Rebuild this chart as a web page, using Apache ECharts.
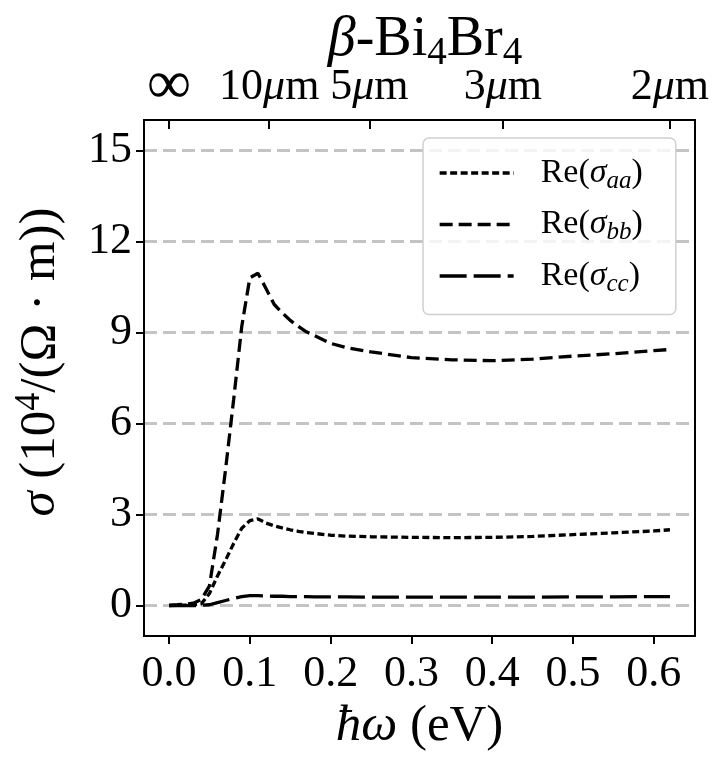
<!DOCTYPE html>
<html lang="en">
<head>
<meta charset="UTF-8">
<title>beta-Bi4Br4 optical conductivity</title>
<script src="https://cdn.jsdelivr.net/npm/echarts@6/dist/echarts.min.js"></script>
<style>
    html, body { margin: 0; padding: 0; background: #fff; }
    #main { width: 715px; height: 759px; }
</style>
</head>
<body>
<div id="main"></div>
<script>
    // photon energy (eV)
    var energy = [0, 0.01, 0.02, 0.03, 0.04, 0.05, 0.06, 0.07, 0.08, 0.09,
        0.10, 0.11, 0.12, 0.13, 0.14, 0.15, 0.16, 0.17, 0.18,
        0.20, 0.22, 0.25, 0.30, 0.35, 0.40, 0.45, 0.50, 0.55, 0.60, 0.62];
    // Re(sigma), units of 10^4 / (Ohm m)
    var sigmaAA = [0, 0.01, 0.02, 0.03, 0.06, 0.4, 0.98, 1.5, 2.05, 2.55,
        2.8, 2.86, 2.72, 2.63, 2.56, 2.5, 2.45, 2.41, 2.38,
        2.32, 2.29, 2.27, 2.25, 2.24, 2.25, 2.28, 2.34, 2.4, 2.46, 2.5];
    var sigmaBB = [0.02, 0.03, 0.05, 0.08, 0.2, 0.65, 2.35, 4.5, 6.8, 9.2,
        10.8, 10.95, 10.45, 9.93, 9.65, 9.4, 9.2, 9.02, 8.9,
        8.64, 8.5, 8.36, 8.17, 8.1, 8.07, 8.12, 8.22, 8.3, 8.4, 8.44];
    var sigmaCC = [0, 0, 0, 0, 0.01, 0.03, 0.1, 0.17, 0.24, 0.3,
        0.33, 0.33, 0.32, 0.31, 0.31, 0.3, 0.3, 0.3, 0.29,
        0.29, 0.29, 0.28, 0.28, 0.28, 0.28, 0.28, 0.29, 0.29, 0.3, 0.3];

    var seriesKeys = ['aa', 'bb', 'cc'];
    var xTicks = [0, 0.1, 0.2, 0.3, 0.4, 0.5, 0.6];
    var yTicks = [0, 3, 6, 9, 12, 15];
    // top axis: wavelength in micrometres
    var topWavelengths = [Infinity, 10, 5, 3, 2];
    var topLabels = ['∞', '10μm', '5μm', '3μm', '2μm'];

    var FONT = 'Liberation Serif';
    var FS = 44;      // tick labels
    var NAME_FS = 51; // axis titles
    var topTickEnergy = topWavelengths.map(function (l) { return 1.23984 / l; });

    function pairs(ys) {
        return energy.map(function (x, i) { return [x, ys[i]]; });
    }

    function topFormatter(v) {
        var best = 0;
        for (var i = 0; i < topTickEnergy.length; i++) {
            if (Math.abs(topTickEnergy[i] - v) < Math.abs(topTickEnergy[best] - v)) best = i;
        }
        var lab = topLabels[best];
        if (lab === '∞') return '{inf|∞}';
        return '{n|' + lab.replace('μ', '}{g|μ}{n|') + '}';
    }

    var dashes = { aa: [7, 3.5], bb: [13, 6], cc: [27, 7] };
    var values = { aa: sigmaAA, bb: sigmaBB, cc: sigmaCC };

    function lineStyleFor(k) {
        return { color: '#000', width: 3.3, cap: 'butt', type: dashes[k] };
    }

    var myChart = echarts.init(document.getElementById('main'));

    var option = {
        animation: false,
        backgroundColor: '#fff',
        title: {
            text: '{g|β}{n|-Bi}{s|4}{n|Br}{s|4}',
            left: 420,
            top: 2,
            textAlign: 'center',
            textStyle: {
                fontWeight: 'normal',
                fontFamily: FONT,
                fontSize: 56,
                rich: {
                    n: { fontFamily: FONT, fontSize: 56, fontWeight: 'normal', lineHeight: 66, color: '#000' },
                    g: { fontFamily: FONT, fontSize: 56, fontWeight: 'normal', lineHeight: 66, fontStyle: 'italic', color: '#000' },
                    s: { fontFamily: FONT, fontSize: 39, fontWeight: 'normal', lineHeight: 38, verticalAlign: 'bottom', color: '#000' }
                }
            }
        },
        legend: {
            orient: 'vertical',
            left: 423,
            top: 138,
            padding: [18, 33, 18, 15],
            itemWidth: 74,
            itemHeight: 14,
            itemGap: 14,
            borderColor: '#d0d0d0',
            borderWidth: 1.5,
            borderRadius: 6,
            backgroundColor: 'rgba(255,255,255,0.8)',
            data: seriesKeys.map(function (k) {
                return { name: k, lineStyle: lineStyleFor(k), itemStyle: { opacity: 0 } };
            }),
            formatter: function (name) {
                return '{n|Re(}{g|σ}{s|' + name + '}{n|)}';
            },
            textStyle: {
                fontFamily: FONT,
                fontSize: 34,
                color: '#000',
                padding: [0, 0, 0, 22],
                rich: {
                    n: { fontFamily: FONT, fontSize: 34, lineHeight: 41, color: '#000' },
                    g: { fontFamily: FONT, fontSize: 34, lineHeight: 41, fontStyle: 'italic', color: '#000' },
                    s: { fontFamily: FONT, fontSize: 25, lineHeight: 26, fontStyle: 'italic', verticalAlign: 'bottom', color: '#000' }
                }
            }
        },
        grid: {
            left: 144,
            top: 120,
            right: 20,
            bottom: 123,
            show: true,
            borderColor: '#000',
            borderWidth: 2
        },
        xAxis: [
            {
                type: 'value',
                position: 'bottom',
                min: -0.031,
                max: 0.651,
                axisLine: { show: true, onZero: false, lineStyle: { color: '#000', width: 2 } },
                axisTick: { show: true, inside: false, length: 8, customValues: xTicks, lineStyle: { color: '#000', width: 2 } },
                axisLabel: {
                    customValues: xTicks,
                    formatter: function (v) { return v.toFixed(1); },
                    fontFamily: FONT, fontSize: FS, color: '#000', margin: 16
                },
                splitLine: { show: false },
                name: '{g|ħω}{n| (eV)}',
                nameLocation: 'middle',
                nameGap: 64,
                nameTextStyle: {
                    rich: {
                        n: { fontFamily: FONT, fontSize: NAME_FS, color: '#000' },
                        g: { fontFamily: FONT, fontSize: NAME_FS, fontStyle: 'italic', color: '#000' }
                    }
                }
            },
            {
                type: 'value',
                position: 'top',
                min: -0.031,
                max: 0.651,
                axisLine: { show: true, onZero: false, lineStyle: { color: '#000', width: 2 } },
                axisTick: { show: true, inside: true, length: 9, customValues: topTickEnergy, lineStyle: { color: '#000', width: 2 } },
                axisLabel: {
                    customValues: topTickEnergy,
                    formatter: topFormatter,
                    margin: 8,
                    rich: {
                        n: { fontFamily: FONT, fontSize: FS, lineHeight: 50, color: '#000' },
                        g: { fontFamily: FONT, fontSize: FS, lineHeight: 50, fontStyle: 'italic', color: '#000' },
                        inf: { fontFamily: FONT, fontSize: 62, lineHeight: 50, color: '#000' }
                    }
                },
                splitLine: { show: false }
            }
        ],
        yAxis: {
            type: 'value',
            min: -1,
            max: 16,
            axisLine: { show: true, onZero: false, lineStyle: { color: '#000', width: 2 } },
            axisTick: { show: true, inside: false, length: 8, customValues: yTicks, lineStyle: { color: '#000', width: 2 } },
            axisLabel: {
                customValues: yTicks,
                fontFamily: FONT, fontSize: FS, color: '#000', margin: 12
            },
            splitLine: {
                show: true,
                lineStyle: { color: '#c4c4c4', width: 3, type: [13, 6] }
            },
            name: '{g|σ}{n| (10}{sup|4}{n|/(Ω · m))}',
            nameLocation: 'middle',
            nameGap: 74,
            nameTextStyle: {
                padding: [0, 0, 0, 32],
                rich: {
                    n: { fontFamily: FONT, fontSize: NAME_FS, lineHeight: 58, color: '#000' },
                    g: { fontFamily: FONT, fontSize: NAME_FS, lineHeight: 58, fontStyle: 'italic', color: '#000' },
                    sup: { fontFamily: FONT, fontSize: 36, lineHeight: 34, verticalAlign: 'top', color: '#000' }
                }
            }
        },
        series: seriesKeys.map(function (k) {
            return {
                name: k,
                type: 'line',
                xAxisIndex: 0,
                symbol: 'none',
                smooth: false,
                itemStyle: { color: '#000' },
                lineStyle: lineStyleFor(k),
                emphasis: { disabled: true },
                data: pairs(values[k])
            };
        })
    };

    myChart.setOption(option);
</script>
</body>
</html>
